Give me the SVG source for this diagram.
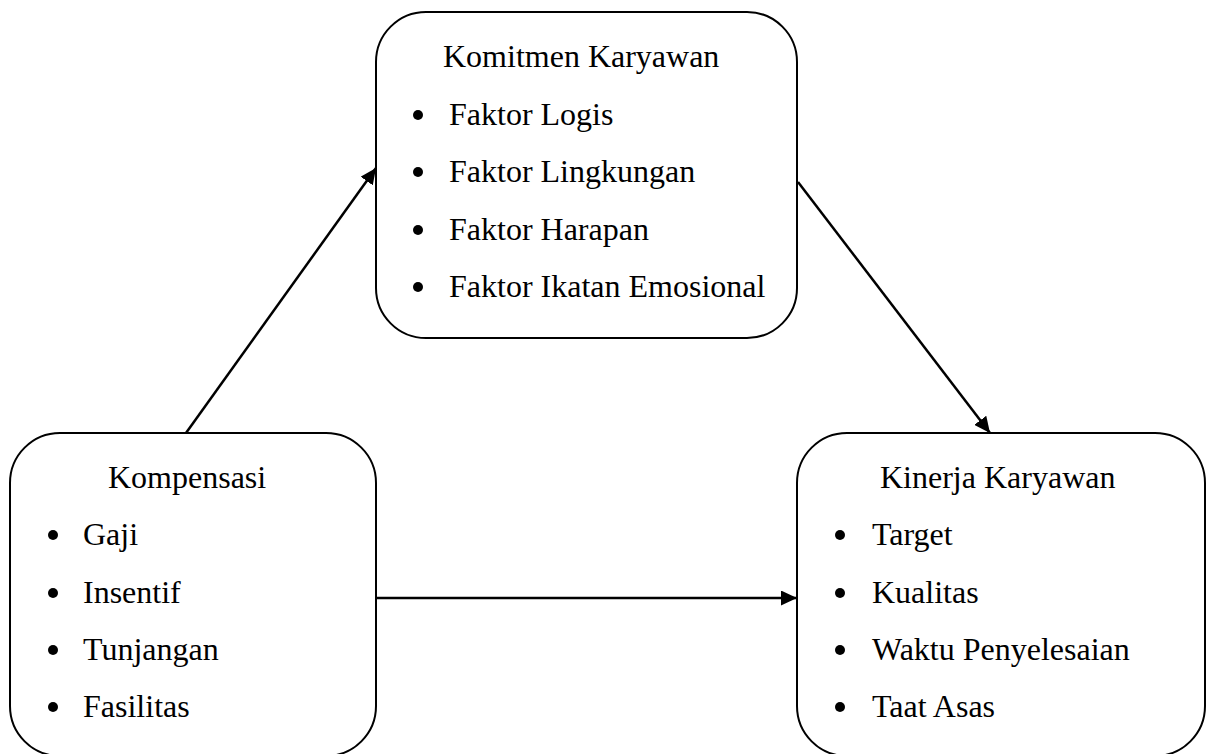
<svg xmlns="http://www.w3.org/2000/svg" width="1209" height="754" viewBox="0 0 1209 754">
<style>
.box{fill:#fff;stroke:#000;stroke-width:2}
.t{font-family:"Liberation Serif","Times New Roman",serif;font-size:32px;fill:#000}
.b{fill:#000}
.c{stroke:#000;stroke-width:2.5;fill:none;marker-end:url(#ah)}
</style>
<defs>
<marker id="ah" markerUnits="userSpaceOnUse" markerWidth="17" markerHeight="15" refX="16" refY="7.5" orient="auto">
<path d="M0,0 L16,7.5 L0,15 z" fill="#000"/>
</marker>
</defs>
<rect width="1209" height="754" fill="#fff"/>
<g id="komitmen">
<rect class="box" x="376" y="12" width="421" height="326" rx="50" ry="50"/>
<text class="t" x="443" y="67">Komitmen Karyawan</text>
<circle class="b" cx="418" cy="115" r="5"/><text class="t" x="449" y="125">Faktor Logis</text>
<circle class="b" cx="418" cy="172" r="5"/><text class="t" x="449" y="182">Faktor Lingkungan</text>
<circle class="b" cx="418" cy="230" r="5"/><text class="t" x="449" y="240">Faktor Harapan</text>
<circle class="b" cx="418" cy="287" r="5"/><text class="t" x="449" y="297">Faktor Ikatan Emosional</text>
</g>
<g id="kompensasi">
<rect class="box" x="10" y="433" width="366" height="323" rx="50" ry="50"/>
<text class="t" x="108" y="488">Kompensasi</text>
<circle class="b" cx="53" cy="535" r="5"/><text class="t" x="83" y="545">Gaji</text>
<circle class="b" cx="53" cy="593" r="5"/><text class="t" x="83" y="603">Insentif</text>
<circle class="b" cx="53" cy="650" r="5"/><text class="t" x="83" y="660">Tunjangan</text>
<circle class="b" cx="53" cy="707" r="5"/><text class="t" x="83" y="717">Fasilitas</text>
</g>
<g id="kinerja">
<rect class="box" x="797" y="433" width="408" height="323" rx="50" ry="50"/>
<text class="t" x="880" y="488">Kinerja Karyawan</text>
<circle class="b" cx="840" cy="535" r="5"/><text class="t" x="872" y="545">Target</text>
<circle class="b" cx="840" cy="593" r="5"/><text class="t" x="872" y="603">Kualitas</text>
<circle class="b" cx="840" cy="650" r="5"/><text class="t" x="872" y="660">Waktu Penyelesaian</text>
<circle class="b" cx="840" cy="707" r="5"/><text class="t" x="872" y="717">Taat Asas</text>
</g>
<g id="connectors">
<line class="c" x1="186" y1="433" x2="376" y2="168"/>
<line class="c" x1="798" y1="182" x2="990" y2="433"/>
<line class="c" x1="376" y1="598" x2="797" y2="598"/>
</g>
</svg>
